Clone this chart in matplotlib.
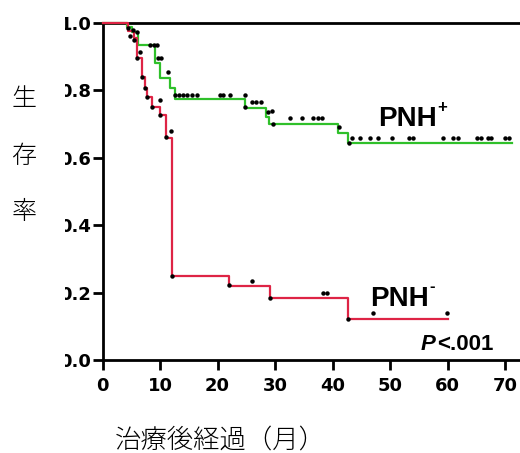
import matplotlib
matplotlib.use("Agg")
import matplotlib.pyplot as plt
from matplotlib.patches import Rectangle

# ---- data ----
green_t = [0, 4.3, 5.1, 6.2, 9.1, 10.0, 11.7, 12.6, 24.8, 28.5, 29.0, 40.9, 42.7, 71.2]
green_s = [1.0, 0.988, 0.973, 0.935, 0.881, 0.837, 0.807, 0.775, 0.748, 0.72, 0.70, 0.674, 0.644, 0.644]

red_t = [0, 4.5, 5.5, 6.0, 6.8, 7.4, 7.7, 8.6, 10.0, 11.0, 12.1, 22.0, 29.1, 42.7, 60.1]
red_s = [1.0, 0.975, 0.955, 0.895, 0.84, 0.807, 0.78, 0.75, 0.727, 0.66, 0.249, 0.22, 0.184, 0.122, 0.122]

green_cens_x = [4.4, 5.3, 6.0, 4.8, 5.5, 8.3, 9.0, 9.5, 9.65, 10.2, 11.4,
                12.6, 13.3, 14.0, 14.7, 15.6, 16.4, 20.4, 21.0, 22.2, 24.8, 24.8,
                26.0, 26.7, 27.6, 28.8, 29.5, 29.6, 32.6, 34.7, 36.6, 37.5, 38.2, 41.1, 42.8,
                43.4, 44.8, 46.5, 47.9, 50.3, 53.3, 54.0, 59.2, 60.9, 61.8,
                65.1, 65.8, 67.0, 67.6, 70.0, 70.7]
green_cens_y = [0.985, 0.979, 0.973, 0.961, 0.950, 0.935, 0.935, 0.935, 0.896, 0.896, 0.855,
                0.786, 0.786, 0.786, 0.786, 0.786, 0.786, 0.786, 0.786, 0.786, 0.786, 0.751,
                0.766, 0.766, 0.766, 0.735, 0.739, 0.70, 0.718, 0.718, 0.718, 0.718, 0.718, 0.69, 0.644,
                0.659, 0.659, 0.659, 0.659, 0.659, 0.659, 0.659, 0.659, 0.659, 0.659,
                0.659, 0.659, 0.659, 0.659, 0.659, 0.659]

red_cens_x = [6.5, 6.0, 6.9, 7.4, 7.7, 8.6, 10.0, 10.0, 11.0, 11.9, 12.1, 22.0, 26.0,
              29.1, 38.3, 39.0, 42.7, 47.0, 59.9]
red_cens_y = [0.914, 0.896, 0.840, 0.807, 0.780, 0.751, 0.772, 0.727, 0.662, 0.680, 0.249, 0.223, 0.234,
              0.184, 0.199, 0.199, 0.122, 0.139, 0.139]

x_ticks = [0, 10, 20, 30, 40, 50, 60, 70]
y_ticks = [0.0, 0.2, 0.4, 0.6, 0.8, 1.0]
y_ticklabels = ["0.0", "0.2", "0.4", "0.6", "0.8", "1.0"]

green_c = "#2fc02a"
red_c = "#de2445"

W, H = 520, 453
PX = 5.75      # pixels per month
X0 = 102.5     # pixel of x = 0
fig = plt.figure(figsize=(W / 100, H / 100), dpi=100)
ax = fig.add_axes([X0 / W, (H - 360) / H, (W - X0) / W, 337 / H])

ax.step(green_t, green_s, where="post", color=green_c, lw=1.6, clip_on=False, zorder=3)
ax.step(red_t, red_s, where="post", color=red_c, lw=1.6, clip_on=False, zorder=3)
ax.plot(green_cens_x, green_cens_y, "o", color="black", ms=3.2, mew=0, clip_on=False, zorder=4)
ax.plot(red_cens_x, red_cens_y, "o", color="black", ms=3.2, mew=0, clip_on=False, zorder=4)
ax.axhline(1.0, color="black", lw=2.0, clip_on=False, zorder=2)

ax.set_xlim(0, (W - X0) / PX)
ax.set_ylim(0, 1.0)
for s in ["top", "right"]:
    ax.spines[s].set_visible(False)
for s in ["left", "bottom"]:
    ax.spines[s].set_linewidth(2.0)
    ax.spines[s].set_color("black")

tick_font = dict(family=["DejaVu Sans"], weight="bold", size=13)
ax.set_xticks(x_ticks)
ax.set_xticklabels([str(v) for v in x_ticks], fontdict=tick_font)
ax.set_yticks(y_ticks)
ax.set_yticklabels(y_ticklabels, fontdict=tick_font)
ax.tick_params(axis="both", direction="out", length=7, width=2.0, color="black")
ax.tick_params(axis="x", pad=5)
ax.tick_params(axis="y", pad=1)

def dx(px):
    return (px - X0) / PX

def dy(py):
    return (360 - py) / 337

bold_font = ["Liberation Sans"]
ax.text(dx(378), dy(126), "PNH", family=bold_font, weight="bold",
        fontsize=20, va="baseline", ha="left")
ax.text(dx(437), dy(112), "+", family=bold_font, weight="bold",
        fontsize=12, va="baseline", ha="left")
ax.text(dx(370), dy(306), "PNH", family=bold_font, weight="bold",
        fontsize=20, va="baseline", ha="left")
ax.text(dx(429), dy(291), "-", family=bold_font, weight="bold",
        fontsize=12, va="baseline", ha="left")
ax.text(dx(421), dy(350), "P", family=bold_font,
        weight="bold", style="italic", fontsize=16, va="baseline", ha="left")
ax.text(dx(437), dy(350), "<.001", family=bold_font,
        weight="bold", fontsize=16, va="baseline", ha="left")

# crop the left edge of the tick labels as in the reference
fig.patches.append(Rectangle((0, 0), 65 / W, 1, transform=fig.transFigure,
                             facecolor="white", edgecolor="none", zorder=5))

cjk = ["Noto Sans CJK JP", "DejaVu Sans"]
for ch, yc in zip(["生", "存", "率"], [99, 156, 212]):
    fig.text(24 / W, 1 - yc / H, ch, family=cjk, fontsize=18, ha="center", va="center",
             zorder=6, fontweight="light")
fig.text(220 / W, 1 - 440 / H, "治療後経過（月）", family=cjk, fontsize=19, ha="center",
         va="center", zorder=6, fontweight="light")

fig.savefig("out.png", dpi=100)
